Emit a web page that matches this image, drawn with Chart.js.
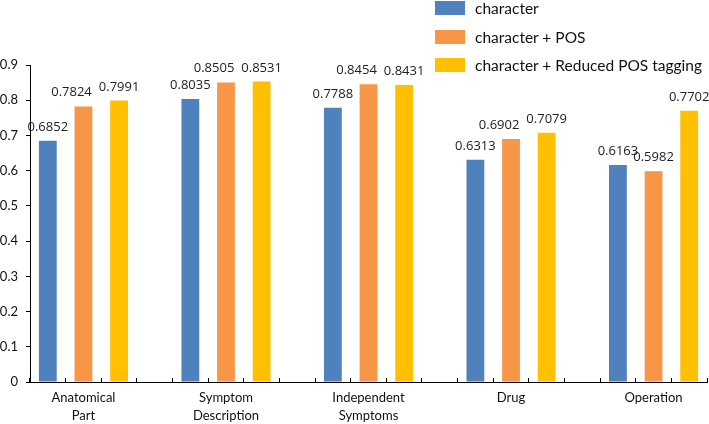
<!DOCTYPE html>
<html>
<head>
<meta charset="utf-8">
<script src="https://cdn.jsdelivr.net/npm/chart.js@4.4.1/dist/chart.umd.min.js"></script>
<style>
    body { margin: 0; background: #fff; }
    .wrap { position: relative; width: 709px; height: 424px; }
    #legend { position: absolute; left: 435px; top: 1px; font-family: Lato, sans-serif; font-size: 15.5px; color: #111; }
    #legend .item { display: flex; align-items: center; height: 14px; margin-bottom: 14.5px; }
    #legend .box { width: 30px; height: 14px; margin-right: 10px; }
</style>
</head>
<body>
<div class="wrap">
    <canvas id="chart" width="709" height="424"></canvas>
    <div id="legend"></div>
</div>
<script>
// Categories and series values
const categories = [['Anatomical', 'Part'], ['Symptom', 'Description'], ['Independent', 'Symptoms'], 'Drug', 'Operation'];
const seriesNames = ['character', 'character + POS', 'character + Reduced POS tagging'];
const character = [0.6852, 0.8035, 0.7788, 0.6313, 0.6163];
const characterPos = [0.7824, 0.8505, 0.8454, 0.6902, 0.5982];
const characterReduced = [0.7991, 0.8531, 0.8431, 0.7079, 0.7702];
const yTicks = [0, 0.1, 0.2, 0.3, 0.4, 0.5, 0.6, 0.7, 0.8, 0.9];

const colors = ['#4f81bd', '#f79646', '#ffc000'];
const series = [character, characterPos, characterReduced];

// Each category gets 3 bar slots plus one empty slot (none after the last one)
const slotCount = categories.length * 4 - 1;
const slotLabels = [];
for (let s = 0; s < slotCount; s++) {
    slotLabels.push(s % 4 === 1 ? categories[Math.floor(s / 4)] : '');
}

function slotData(values, offset) {
    const out = new Array(slotCount).fill(null);
    values.forEach((v, i) => { out[i * 4 + offset] = v; });
    return out;
}

// Draw the value above each bar; a label that would run into the
// label of the next bar in its group is nudged to the left
const valueLabels = {
    id: 'valueLabels',
    afterDatasetsDraw(chart) {
        const ctx = chart.ctx;
        ctx.save();
        ctx.font = '13px "Open Sans", sans-serif';
        ctx.fillStyle = '#222';
        ctx.textAlign = 'center';
        ctx.textBaseline = 'alphabetic';
        const n = chart.data.datasets.length;
        for (let c = 0; c < categories.length; c++) {
            const items = [];
            for (let d = 0; d < n; d++) {
                const bar = chart.getDatasetMeta(d).data[c * 4 + d];
                const text = series[d][c].toFixed(4);
                items.push({ text, x: bar.x, y: bar.y - 10, w: ctx.measureText(text).width });
            }
            for (let d = n - 2; d >= 0; d--) {
                const cur = items[d], next = items[d + 1];
                const nextLeft = next.x - next.w / 2;
                const collide = cur.x + cur.w / 2 + 7 > nextLeft &&
                    Math.abs(cur.y - next.y) < 12 && next.y <= cur.y + 2;
                if (collide) cur.x = nextLeft - 7 - cur.w / 2;
            }
            items.forEach(it => ctx.fillText(it.text, it.x, it.y));
        }
        ctx.restore();
    }
};

const chart = new Chart(document.getElementById('chart'), {
    type: 'bar',
    data: {
        labels: slotLabels,
        datasets: series.map((values, j) => ({
            label: seriesNames[j],
            data: slotData(values, j),
            backgroundColor: colors[j],
            grouped: false,
            categoryPercentage: 1,
            barPercentage: 0.5
        }))
    },
    options: {
        responsive: false,
        animation: false,
        layout: { padding: { top: 65, right: 2, left: 0, bottom: 0 } },
        plugins: {
            legend: { display: false },
            tooltip: { enabled: false }
        },
        scales: {
            x: {
                offset: true,
                grid: {
                    offset: true,
                    drawOnChartArea: false,
                    color: '#000',
                    tickLength: -4
                },
                border: { color: '#000', width: 1 },
                ticks: {
                    autoSkip: false,
                    maxRotation: 0,
                    padding: 11,
                    color: '#111',
                    font: { family: 'Lato', size: 13, lineHeight: 1.4 }
                },
                afterFit(scale) { scale.height = 42; }
            },
            y: {
                min: 0,
                max: 0.9,
                afterBuildTicks(scale) {
                    scale.ticks = yTicks.map(v => ({ value: v }));
                },
                grid: {
                    drawOnChartArea: false,
                    color: '#000',
                    tickLength: 4
                },
                border: { color: '#000', width: 1 },
                ticks: {
                    padding: 8,
                    color: '#111',
                    font: { family: 'Lato', size: 13 },
                    callback: v => String(Math.round(v * 10) / 10)
                },
                afterFit(scale) { scale.width = 30; }
            }
        }
    },
    plugins: [valueLabels]
});

// HTML legend built from the chart's own legend items
const legendEl = document.getElementById('legend');
chart.options.plugins.legend.labels.generateLabels(chart).forEach(item => {
    const row = document.createElement('div');
    row.className = 'item';
    const box = document.createElement('span');
    box.className = 'box';
    box.style.background = item.fillStyle;
    const text = document.createElement('span');
    text.textContent = item.text;
    row.appendChild(box);
    row.appendChild(text);
    legendEl.appendChild(row);
});
</script>
</body>
</html>
